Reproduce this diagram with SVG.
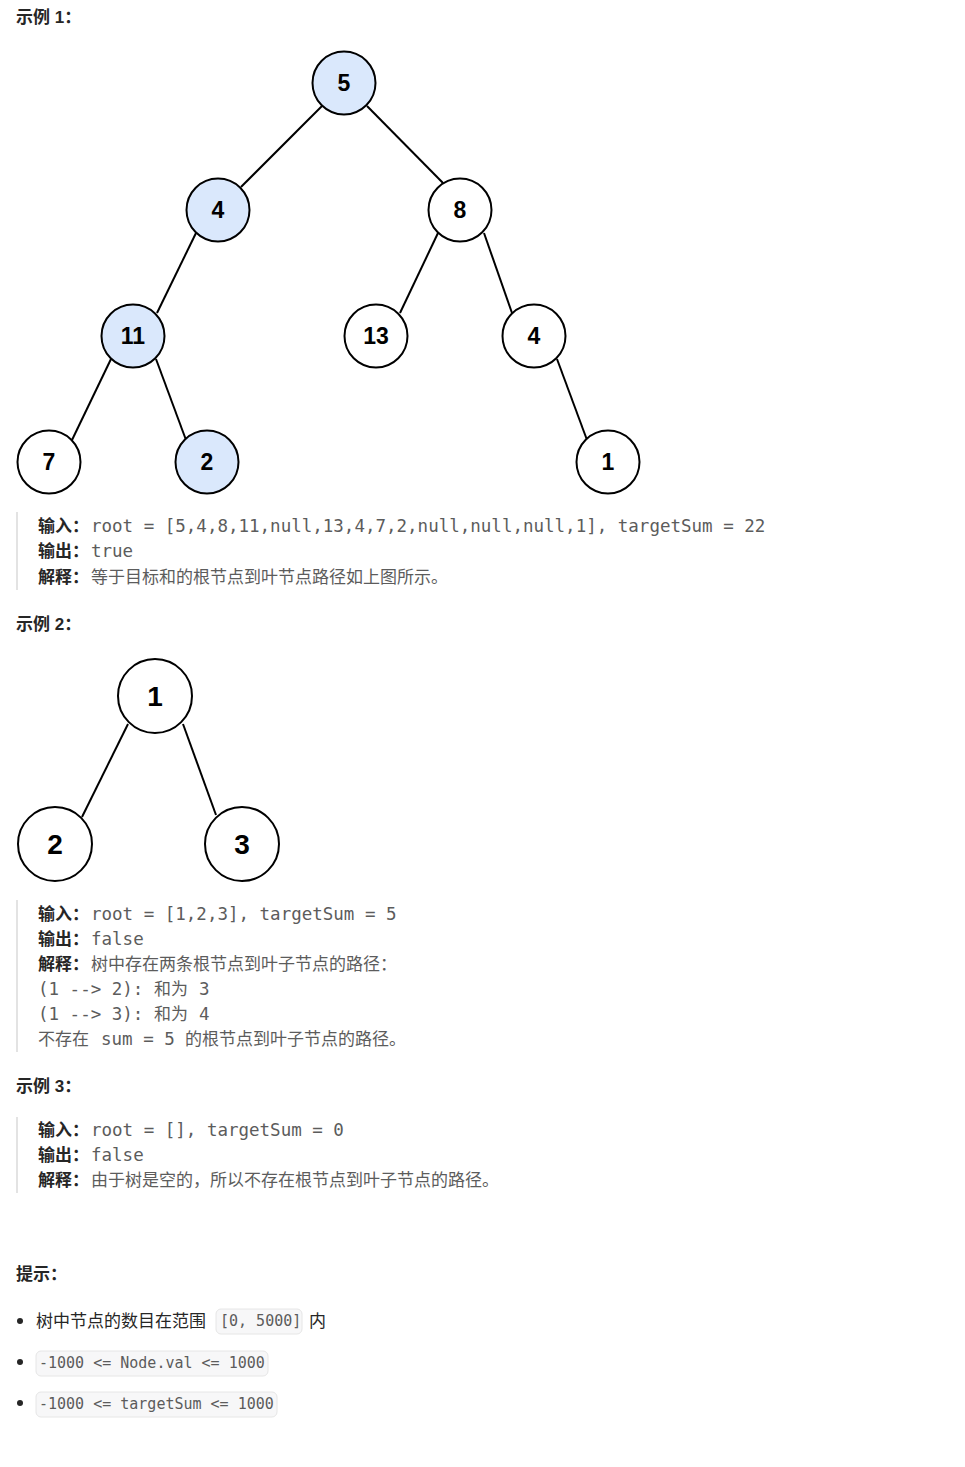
<svg xmlns="http://www.w3.org/2000/svg" width="965" height="1467" viewBox="0 0 965 1467">
<style>
.h{font-family:"Liberation Sans","Noto Sans CJK SC",sans-serif;font-weight:bold;font-size:17px;fill:#262626}
.lb{font-family:"Noto Sans CJK SC",sans-serif;font-weight:bold;font-size:17px;fill:#262626}
.m{font-family:"DejaVu Sans Mono",monospace;font-size:17.5px;fill:#5c5c5c}
.cj{font-family:"Noto Sans CJK SC",sans-serif;font-size:17px;fill:#5c5c5c}
.t{font-family:"Noto Sans CJK SC",sans-serif;font-size:17px;fill:#262626}
.c{font-family:"DejaVu Sans Mono",monospace;font-size:15px;fill:#5c5c5c}
.box{fill:#f7f7f8;stroke:#e6e6e6;stroke-width:1}
.bar{fill:#e3e3e3}
.n{fill:#ffffff;stroke:#000;stroke-width:2}
.hl{fill:#dae8fc}
.edge{stroke:#000;stroke-width:2;fill:none}
.v1{font-family:"Liberation Sans",Arial,sans-serif;font-weight:bold;font-size:23px;text-anchor:middle;fill:#000}
.v2{font-family:"Liberation Sans",Arial,sans-serif;font-weight:bold;font-size:28px;text-anchor:middle;fill:#000}
</style>
<defs>
<clipPath id="clip2"><rect x="0" y="640" width="281" height="260"/></clipPath>
</defs>
<rect width="965" height="1467" fill="#ffffff"/>

<!-- Example 1 -->
<text class="h" x="16" y="23">示例 1：</text>
<g id="edges1">
<line class="edge" x1="322" y1="106" x2="241" y2="187"/>
<line class="edge" x1="367" y1="106" x2="443" y2="183"/>
<line class="edge" x1="196" y1="233" x2="157" y2="313"/>
<line class="edge" x1="438" y1="233" x2="400" y2="313"/>
<line class="edge" x1="484" y1="233" x2="512" y2="313"/>
<line class="edge" x1="111" y1="359" x2="72" y2="440"/>
<line class="edge" x1="156" y1="359" x2="186" y2="440"/>
<line class="edge" x1="557" y1="359" x2="587" y2="440"/>
</g>
<g id="n5"><circle class="n hl" cx="344" cy="83" r="31.5"/><text class="v1" x="344" y="91">5</text></g>
<g id="n4a"><circle class="n hl" cx="218" cy="210" r="31.5"/><text class="v1" x="218" y="218">4</text></g>
<g id="n8"><circle class="n" cx="460" cy="210" r="31.5"/><text class="v1" x="460" y="218">8</text></g>
<g id="n11"><circle class="n hl" cx="133" cy="336" r="31.5"/><text class="v1" x="133" y="344">11</text></g>
<g id="n13"><circle class="n" cx="376" cy="336" r="31.5"/><text class="v1" x="376" y="344">13</text></g>
<g id="n4b"><circle class="n" cx="534" cy="336" r="31.5"/><text class="v1" x="534" y="344">4</text></g>
<g id="n7"><circle class="n" cx="49" cy="462" r="31.5"/><text class="v1" x="49" y="470">7</text></g>
<g id="n2a"><circle class="n hl" cx="207" cy="462" r="31.5"/><text class="v1" x="207" y="470">2</text></g>
<g id="n1a"><circle class="n" cx="608" cy="462" r="31.5"/><text class="v1" x="608" y="470">1</text></g>

<rect class="bar" x="16" y="512" width="2" height="78"/>
<text class="lb" x="38" y="532">输入：</text>
<text class="m" x="91" y="532">root = [5,4,8,11,null,13,4,7,2,null,null,null,1], targetSum = 22</text>
<text class="lb" x="38" y="557">输出：</text>
<text class="m" x="91" y="557">true</text>
<text class="lb" x="38" y="583">解释：</text>
<text class="cj" x="91" y="583">等于目标和的根节点到叶节点路径如上图所示。</text>

<!-- Example 2 -->
<text class="h" x="16" y="630">示例 2：</text>
<g clip-path="url(#clip2)">
<g id="edges2">
<line class="edge" x1="128" y1="724" x2="82" y2="817"/>
<line class="edge" x1="183" y1="724" x2="216" y2="815"/>
</g>
<g id="m1"><circle class="n" cx="155" cy="696" r="37"/><text class="v2" x="155" y="706">1</text></g>
<g id="m2"><circle class="n" cx="55" cy="844" r="37"/><text class="v2" x="55" y="854">2</text></g>
<g id="m3"><circle class="n" cx="242" cy="844" r="37"/><text class="v2" x="242" y="854">3</text></g>
</g>

<rect class="bar" x="16" y="900" width="2" height="152"/>
<text class="lb" x="38" y="920">输入：</text>
<text class="m" x="91" y="920">root = [1,2,3], targetSum = 5</text>
<text class="lb" x="38" y="945">输出：</text>
<text class="m" x="91" y="945">false</text>
<text class="lb" x="38" y="970">解释：</text>
<text class="cj" x="91" y="970">树中存在两条根节点到叶子节点的路径：</text>
<text class="m" x="38" y="995">(1 --&gt; 2):</text>
<text class="cj" x="154" y="995">和为</text>
<text class="m" x="199" y="995">3</text>
<text class="m" x="38" y="1020">(1 --&gt; 3):</text>
<text class="cj" x="154" y="1020">和为</text>
<text class="m" x="199" y="1020">4</text>
<text class="cj" x="38" y="1045">不存在</text>
<text class="m" x="101" y="1045">sum = 5</text>
<text class="cj" x="185" y="1045">的根节点到叶子节点的路径。</text>

<!-- Example 3 -->
<text class="h" x="16" y="1092">示例 3：</text>
<rect class="bar" x="16" y="1117" width="2" height="76"/>
<text class="lb" x="38" y="1136">输入：</text>
<text class="m" x="91" y="1136">root = [], targetSum = 0</text>
<text class="lb" x="38" y="1161">输出：</text>
<text class="m" x="91" y="1161">false</text>
<text class="lb" x="38" y="1186">解释：</text>
<text class="cj" x="91" y="1186">由于树是空的，所以不存在根节点到叶子节点的路径。</text>

<!-- Tips -->
<text class="h" x="16" y="1280">提示：</text>
<circle cx="20" cy="1321" r="3" fill="#262626"/>
<text class="t" x="36" y="1327">树中节点的数目在范围</text>
<rect class="box" x="216" y="1309" width="86" height="25" rx="5"/>
<text class="c" x="220" y="1326">[0, 5000]</text>
<text class="t" x="309" y="1327">内</text>

<circle cx="20" cy="1362" r="3" fill="#262626"/>
<rect class="box" x="36" y="1351" width="232" height="25" rx="5"/>
<text class="c" x="39" y="1368">-1000 &lt;= Node.val &lt;= 1000</text>

<circle cx="20" cy="1403" r="3" fill="#262626"/>
<rect class="box" x="36" y="1392" width="241" height="25" rx="5"/>
<text class="c" x="39" y="1409">-1000 &lt;= targetSum &lt;= 1000</text>
</svg>
